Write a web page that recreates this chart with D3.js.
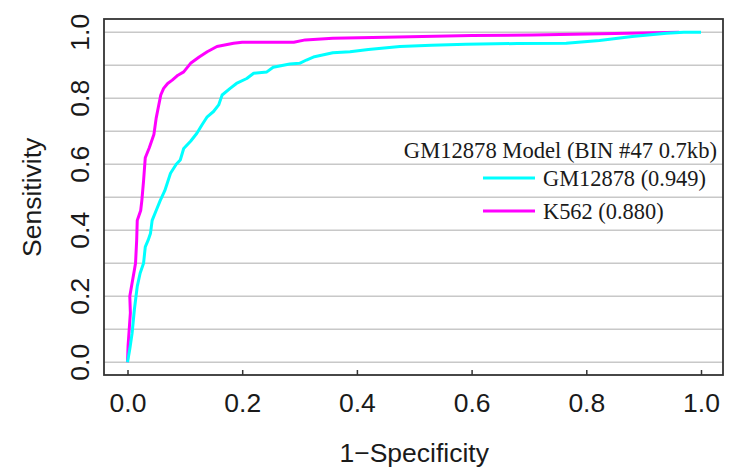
<!DOCTYPE html>
<html>
<head>
<meta charset="utf-8">
<script src="https://cdn.jsdelivr.net/npm/d3@7"></script>
<style>
  body { margin: 0; background: #fff; }
  svg { display: block; }
  .tick text, .lab { font-family: "Liberation Sans", Arial, sans-serif; fill: #1a1a1a; }
  .leg { font-family: "Liberation Serif", "Times New Roman", serif; fill: #1a1a1a; }
</style>
</head>
<body>
<div id="chart"></div>
<script>
// ROC points: [1-specificity, sensitivity]
var gmPoints = [
  [0,0],[0.004,0.04],[0.008,0.088],[0.012,0.16],[0.017,0.23],[0.022,0.27],
  [0.028,0.30],[0.031,0.35],[0.036,0.37],[0.04,0.39],[0.043,0.43],[0.05,0.46],
  [0.057,0.49],[0.065,0.52],[0.075,0.573],[0.085,0.6],[0.092,0.613],[0.098,0.648],
  [0.11,0.67],[0.121,0.694],[0.13,0.72],[0.139,0.744],[0.15,0.76],[0.159,0.78],
  [0.165,0.81],[0.179,0.83],[0.19,0.845],[0.208,0.86],[0.22,0.876],[0.243,0.88],
  [0.254,0.894],[0.283,0.904],[0.30,0.906],[0.312,0.916],[0.326,0.926],[0.358,0.938],
  [0.388,0.941],[0.42,0.948],[0.475,0.957],[0.53,0.961],[0.59,0.964],[0.68,0.966],
  [0.765,0.967],[0.823,0.975],[0.88,0.987],[0.94,0.997],[0.97,1.0],[1,1]
]
var k562Points = [
  [0,0],[0.001,0.05],[0.003,0.1],[0.005,0.15],[0.004,0.2],[0.008,0.24],
  [0.012,0.28],[0.014,0.30],[0.016,0.37],[0.017,0.43],[0.023,0.46],[0.025,0.49],
  [0.028,0.55],[0.031,0.62],[0.038,0.65],[0.046,0.69],[0.05,0.74],[0.054,0.775],
  [0.058,0.81],[0.063,0.83],[0.07,0.845],[0.078,0.855],[0.088,0.87],[0.098,0.88],
  [0.11,0.906],[0.125,0.925],[0.139,0.941],[0.156,0.957],[0.185,0.967],[0.2,0.97],
  [0.29,0.97],[0.31,0.977],[0.358,0.982],[0.45,0.985],[0.6,0.99],[0.706,0.992],
  [0.85,0.996],[0.962,1.0]
]
var xTicks = [0, 0.2, 0.4, 0.6, 0.8, 1.0]
var yTicks = [0, 0.2, 0.4, 0.6, 0.8, 1.0]
var gridVals = [0, 0.1, 0.2, 0.3, 0.4, 0.5, 0.6, 0.7, 0.8, 0.9, 1.0]
var legendTitle = 'GM12878 Model (BIN #47 0.7kb)'
var legendNames = ['GM12878 (0.949)', 'K562 (0.880)']
var legendColors = ['#00ffff', '#ff00ff']

var W = 731, H = 470
var box = {left: 104, top: 19, right: 723, bottom: 375}

var svg = d3.select('#chart').append('svg')
  .attr('width', W).attr('height', H)

var x = d3.scaleLinear().domain([0, 1]).range([127.5, 701])
var y = d3.scaleLinear().domain([0, 1]).range([362.3, 32.3])

// horizontal grid every 0.1
svg.append('g').attr('class', 'grid')
  .selectAll('line').data(gridVals).join('line')
  .attr('x1', box.left).attr('x2', box.right)
  .attr('y1', d => y(d)).attr('y2', d => y(d))
  .attr('stroke', '#c8c8c8').attr('stroke-width', 1.6)

// x axis, ticks pointing inward
var xAxis = svg.append('g')
  .attr('transform', 'translate(0,' + box.bottom + ')')
  .call(d3.axisBottom(x).tickValues(xTicks).tickSize(-5).tickPadding(18)
    .tickFormat(d3.format('.1f')))
xAxis.select('.domain').remove()
xAxis.selectAll('.tick line').attr('stroke', '#333').attr('stroke-width', 1.5)
xAxis.selectAll('.tick text').style('font-size', '26.5px')

// y tick labels, rotated like base R
svg.append('g').selectAll('text').data(yTicks).join('text')
  .attr('class', 'lab')
  .attr('transform', d => 'translate(89,' + y(d) + ') rotate(-90)')
  .attr('text-anchor', 'middle')
  .style('font-size', '26.5px')
  .text(d3.format('.1f'))

// curves
var line = d3.line().x(d => x(d[0])).y(d => y(d[1]))
svg.append('path').datum(k562Points)
  .attr('d', line).attr('fill', 'none')
  .attr('stroke', legendColors[1]).attr('stroke-width', 3)
  .attr('stroke-linejoin', 'round')
svg.append('path').datum(gmPoints)
  .attr('d', line).attr('fill', 'none')
  .attr('stroke', legendColors[0]).attr('stroke-width', 3)
  .attr('stroke-linejoin', 'round')

// plot box
svg.append('rect')
  .attr('x', box.left).attr('y', box.top)
  .attr('width', box.right - box.left).attr('height', box.bottom - box.top)
  .attr('fill', 'none').attr('stroke', '#333').attr('stroke-width', 1.8)

// axis titles
svg.append('text').attr('class', 'lab')
  .attr('x', (x(0) + x(1)) / 2).attr('y', 461.5)
  .attr('text-anchor', 'middle').style('font-size', '26.5px')
  .text('1\u2212Specificity')
svg.append('text').attr('class', 'lab')
  .attr('transform', 'translate(41,' + (y(0) + y(1)) / 2 + ') rotate(-90)')
  .attr('text-anchor', 'middle').style('font-size', '26.5px')
  .text('Sensitivity')

// legend (no frame)
var leg = svg.append('g')
leg.append('text').attr('class', 'leg')
  .attr('x', 717).attr('y', 158.3)
  .attr('text-anchor', 'end').style('font-size', '22.6px')
  .text(legendTitle)
var rows = leg.selectAll('g.row').data(legendNames).join('g')
  .attr('class', 'row')
  .attr('transform', (d, i) => 'translate(0,' + (178 + i * 33) + ')')
rows.append('line')
  .attr('x1', 483).attr('x2', 535).attr('y1', 0).attr('y2', 0)
  .attr('stroke', (d, i) => legendColors[i]).attr('stroke-width', 3)
rows.append('text').attr('class', 'leg')
  .attr('x', 543).attr('y', 7.5)
  .style('font-size', '22.4px')
  .text(d => d)
</script>
</body>
</html>
